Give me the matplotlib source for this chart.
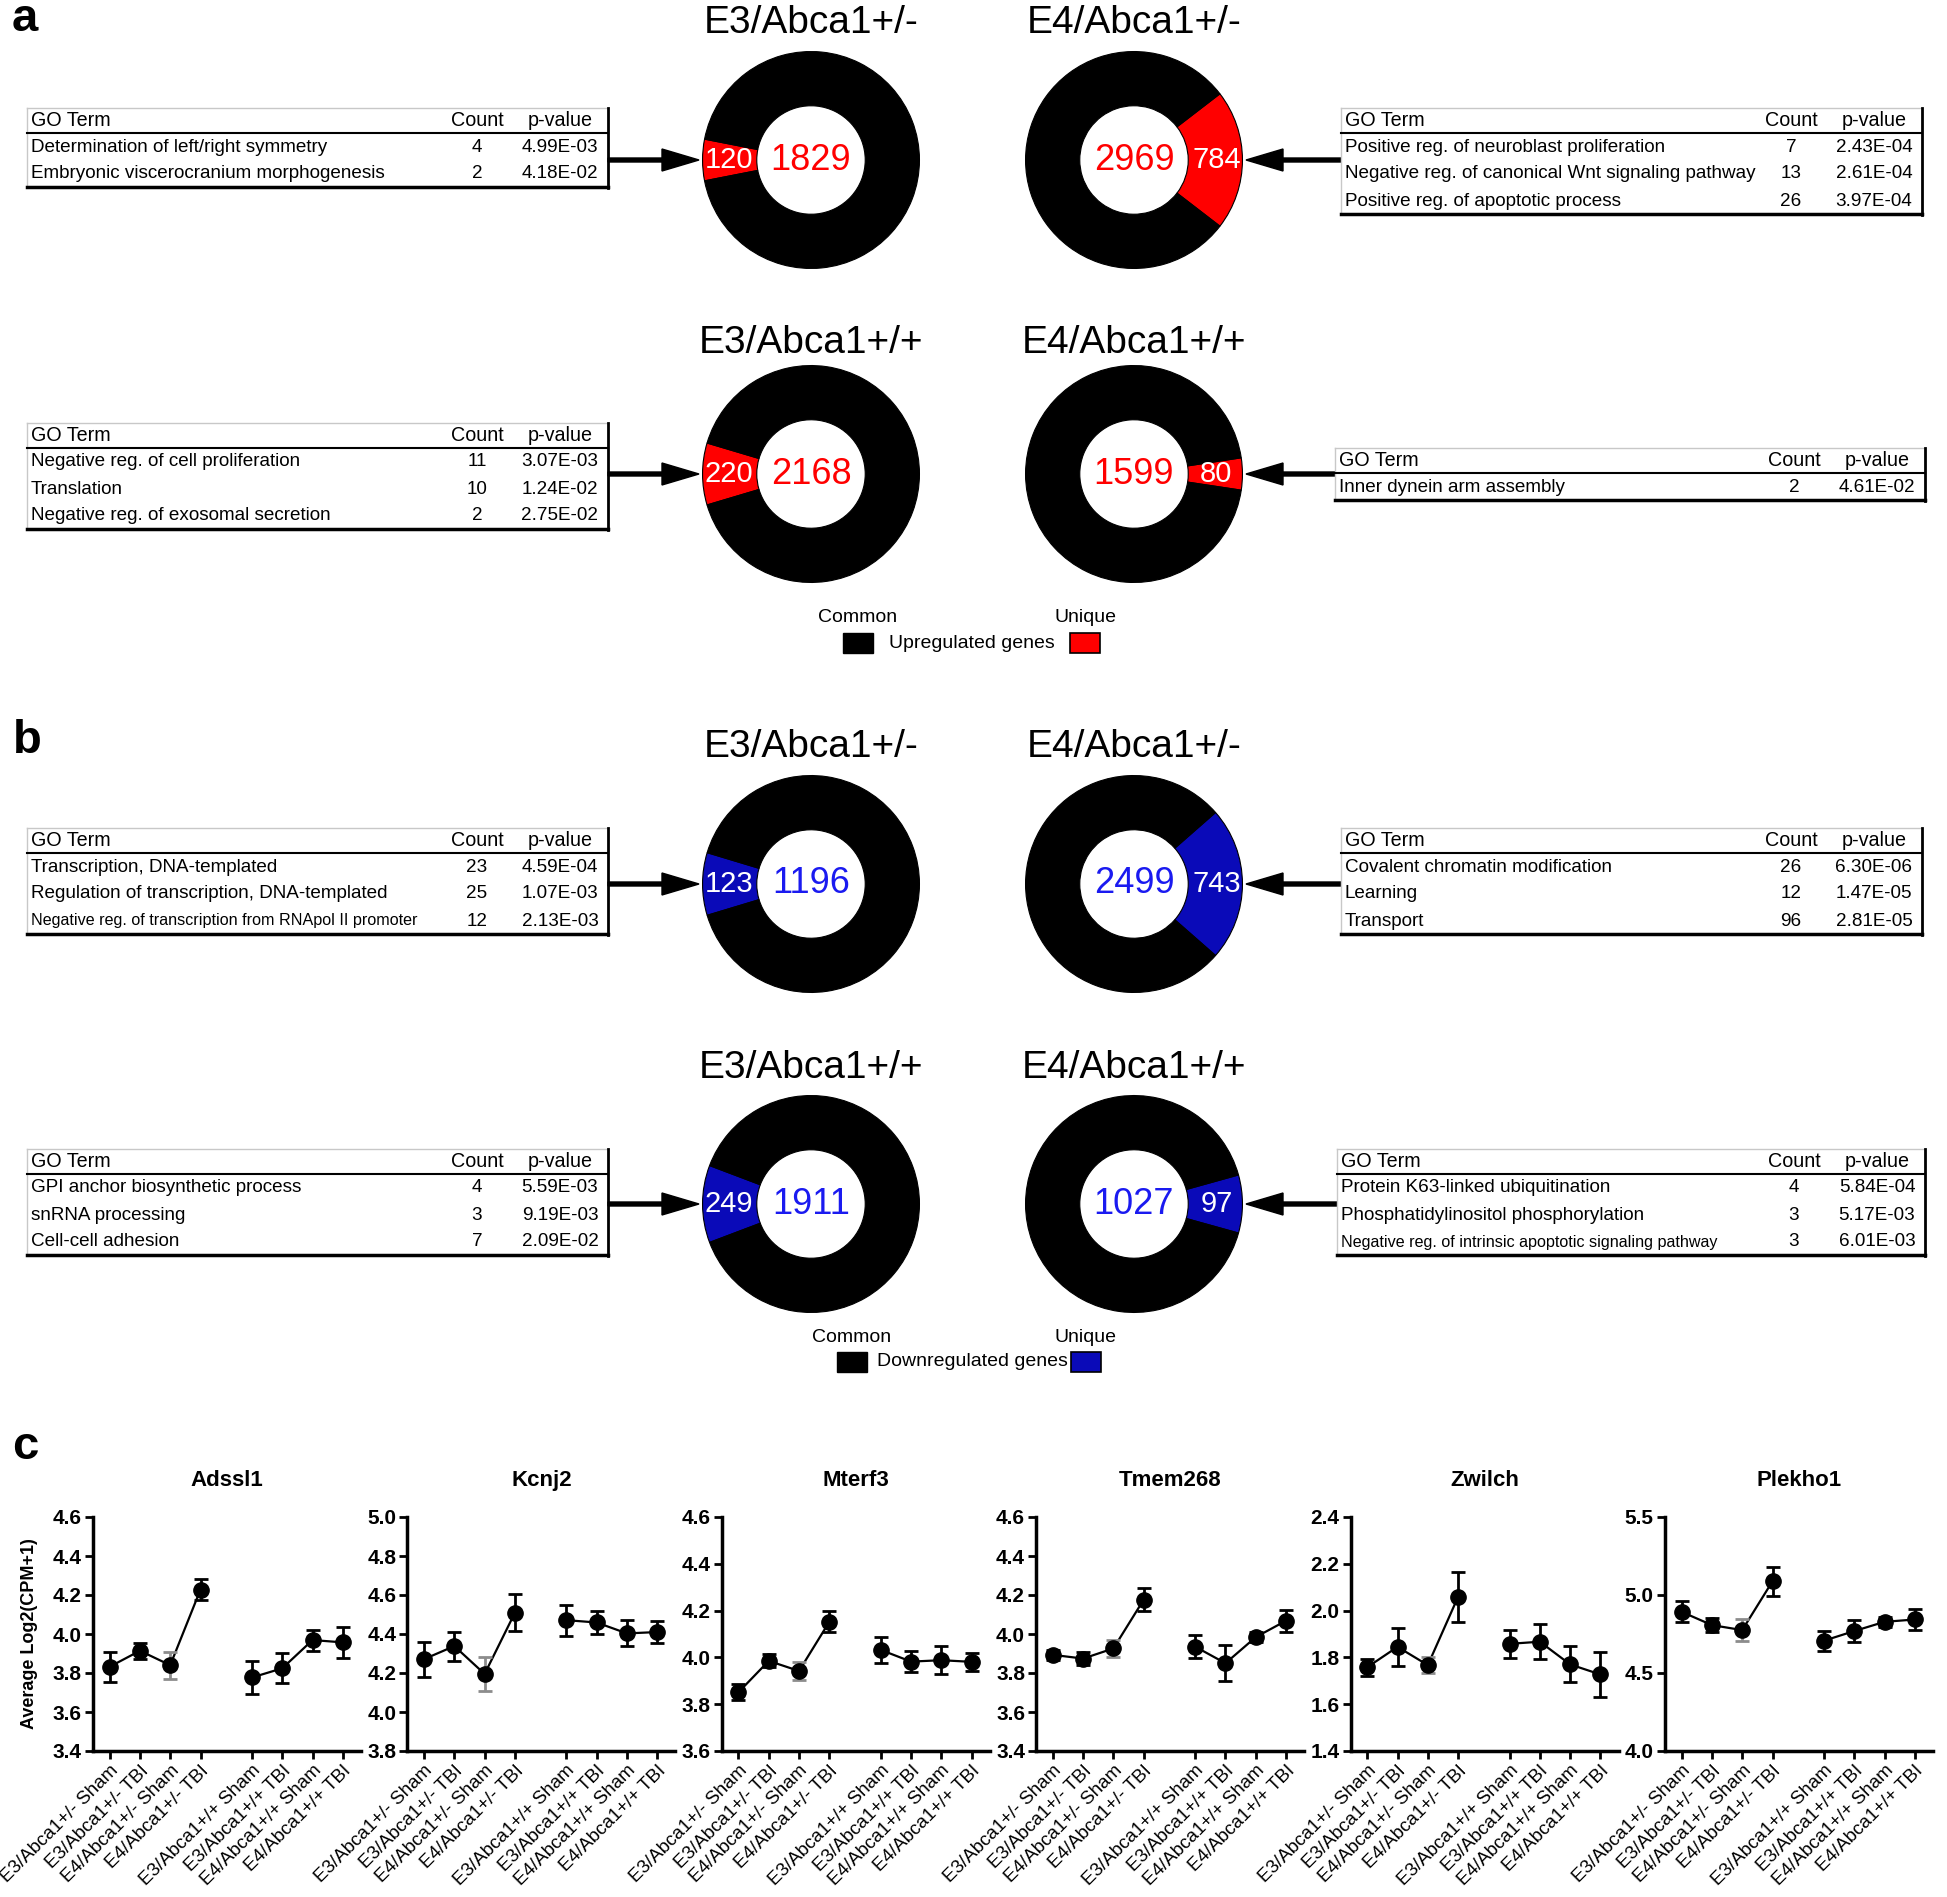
import matplotlib
matplotlib.use('Agg')
import matplotlib.pyplot as plt
from matplotlib import font_manager as fm
from matplotlib.patches import Rectangle

# ---------------- data ----------------
donut_titles = ["E3/Abca1+/-", "E4/Abca1+/-", "E3/Abca1+/+", "E4/Abca1+/+"]
up_common = [1829, 2969, 2168, 1599]
up_unique = [120, 784, 220, 80]
down_common = [1196, 2499, 1911, 1027]
down_unique = [123, 743, 249, 97]

go_up_e3_het = [("Determination of left/right symmetry", 4, "4.99E-03"),
                ("Embryonic viscerocranium morphogenesis", 2, "4.18E-02")]
go_up_e4_het = [("Positive reg. of neuroblast proliferation", 7, "2.43E-04"),
                ("Negative reg. of canonical Wnt signaling pathway", 13, "2.61E-04"),
                ("Positive reg. of apoptotic process", 26, "3.97E-04")]
go_up_e3_wt = [("Negative reg. of cell proliferation", 11, "3.07E-03"),
               ("Translation", 10, "1.24E-02"),
               ("Negative reg. of exosomal secretion", 2, "2.75E-02")]
go_up_e4_wt = [("Inner dynein arm assembly", 2, "4.61E-02")]
go_down_e3_het = [("Transcription, DNA-templated", 23, "4.59E-04"),
                  ("Regulation of transcription, DNA-templated", 25, "1.07E-03"),
                  ("Negative reg. of transcription from RNApol II promoter", 12, "2.13E-03")]
go_down_e4_het = [("Covalent chromatin modification", 26, "6.30E-06"),
                  ("Learning", 12, "1.47E-05"),
                  ("Transport", 96, "2.81E-05")]
go_down_e3_wt = [("GPI anchor biosynthetic process", 4, "5.59E-03"),
                 ("snRNA processing", 3, "9.19E-03"),
                 ("Cell-cell adhesion", 7, "2.09E-02")]
go_down_e4_wt = [("Protein K63-linked ubiquitination", 4, "5.84E-04"),
                 ("Phosphatidylinositol phosphorylation", 3, "5.17E-03"),
                 ("Negative reg. of intrinsic apoptotic signaling pathway", 3, "6.01E-03")]

genes = ["Adssl1", "Kcnj2", "Mterf3", "Tmem268", "Zwilch", "Plekho1"]
groups = ["E3/Abca1+/- Sham", "E3/Abca1+/- TBI", "E4/Abca1+/- Sham", "E4/Abca1+/- TBI",
          "E3/Abca1+/+ Sham", "E3/Abca1+/+ TBI", "E4/Abca1+/+ Sham", "E4/Abca1+/+ TBI"]
mean_adssl1 = [3.832, 3.914, 3.84, 4.228, 3.777, 3.824, 3.969, 3.957]
sem_adssl1 = [0.077, 0.041, 0.07, 0.053, 0.086, 0.077, 0.054, 0.078]
mean_kcnj2 = [4.271, 4.338, 4.195, 4.509, 4.471, 4.459, 4.403, 4.41]
sem_kcnj2 = [0.09, 0.074, 0.085, 0.094, 0.08, 0.06, 0.067, 0.055]
mean_mterf3 = [3.851, 3.985, 3.942, 4.152, 4.032, 3.982, 3.988, 3.981]
sem_mterf3 = [0.034, 0.028, 0.04, 0.045, 0.057, 0.045, 0.059, 0.038]
mean_tmem268 = [3.893, 3.874, 3.926, 4.176, 3.935, 3.85, 3.984, 4.068]
sem_tmem268 = [0.026, 0.035, 0.045, 0.059, 0.06, 0.092, 0.024, 0.057]
mean_zwilch = [1.758, 1.845, 1.767, 2.059, 1.858, 1.867, 1.77, 1.727]
sem_zwilch = [0.036, 0.08, 0.035, 0.107, 0.059, 0.075, 0.077, 0.096]
mean_plekho1 = [4.892, 4.807, 4.775, 5.088, 4.707, 4.769, 4.828, 4.843]
sem_plekho1 = [0.067, 0.045, 0.071, 0.093, 0.065, 0.072, 0.034, 0.069]
y_ranges = [(3.4, 4.6, 0.2), (3.8, 5.0, 0.2), (3.6, 4.6, 0.2),
            (3.4, 4.6, 0.2), (1.4, 2.4, 0.2), (4.0, 5.5, 0.5)]

# ---------------- fonts ----------------
plt.rcParams['font.family'] = ['Liberation Sans', 'DejaVu Sans']
names = {f.name for f in fm.fontManager.ttflist}
HAS_NARROW = 'Liberation Sans Narrow' in names
NUMFAM = ['Liberation Sans Narrow', 'Liberation Sans'] if HAS_NARROW else ['Liberation Sans']
FS_CENTER = 30 if HAS_NARROW else 26
FS_WEDGE = 24 if HAS_NARROW else 21
FS_YTICK = 17 if HAS_NARROW else 15
FS_TITLE_C = 19 if HAS_NARROW else 16

W, H = 1947, 1897
fig = plt.figure(figsize=(W / 100, H / 100), dpi=100)
fig.patch.set_facecolor('white')

ov = fig.add_axes([0, 0, 1, 1])
ov.set_xlim(0, W)
ov.set_ylim(H, 0)
ov.axis('off')

RED = '#ff0000'
BLUE_W = '#0a0ab8'
BLUE_T = '#1a1af0'

CX = [811, 1134]
R = 109


def donut(cx, cy, common, unique, side, wedge_col, num_col):
    ax = fig.add_axes([(cx - R) / W, 1 - (cy + R) / H, 2 * R / W, 2 * R / H])
    ang = 360.0 * unique / (unique + common)
    start = 180 - ang / 2 if side == 'left' else -ang / 2
    ax.pie([unique, common], colors=[wedge_col, 'black'], startangle=start,
           counterclock=True, radius=1,
           wedgeprops=dict(width=0.5, edgecolor='black', linewidth=0.8))
    ax.set_xlim(-1.005, 1.005)
    ax.set_ylim(-1.005, 1.005)
    ax.set_aspect('equal')
    ax.axis('off')
    ax.text(0, 0, str(common), color=num_col, ha='center', va='center',
            fontsize=FS_CENTER, family=NUMFAM)
    xs = -0.76 if side == 'left' else 0.76
    ax.text(xs, 0, str(unique), color='white', ha='center', va='center',
            fontsize=FS_WEDGE, family=NUMFAM)


def table(x0, x1, ytop, rows, fs=13.6):
    n = len(rows)
    yline = ytop + 25
    ybot = yline + 27 * n
    ov.plot([x0, x1], [ytop, ytop], color='#c8c8c8', lw=1)
    ov.plot([x0, x0], [ytop, ybot], color='#c8c8c8', lw=1)
    ov.plot([x1, x1], [ytop, ybot + 1], color='black', lw=2)
    ov.plot([x0, x1], [ybot, ybot], color='black', lw=2.5)
    ov.plot([x0, x1], [yline, yline], color='black', lw=1.5)
    yh = ytop + 12.5
    ov.text(x0 + 4, yh, 'GO Term', va='center', ha='left', fontsize=fs + 0.6)
    ov.text(x1 - 131, yh, 'Count', va='center', ha='center', fontsize=fs + 0.6)
    ov.text(x1 - 48, yh, 'p-value', va='center', ha='center', fontsize=fs + 0.6)
    for i, (term, cnt, pv) in enumerate(rows):
        y = yline + 14 + 27 * i
        ov.text(x0 + 4, y, term, va='center', ha='left',
                fontsize=fs if len(term) <= 50 else fs - 2)
        ov.text(x1 - 131, y, str(cnt), va='center', ha='center', fontsize=fs)
        ov.text(x1 - 48, y, pv, va='center', ha='center', fontsize=fs)


def arrow(x_from, x_to, y):
    ov.arrow(x_from, y, x_to - x_from, 0, width=4, head_width=22, head_length=37,
             length_includes_head=True, color='black')


# ---------------- panels a & b ----------------
sections = [
    dict(common=up_common, unique=up_unique, wcol=RED, ncol=RED,
         ybase=[33, 353], cy=[160, 474],
         tables=[(27, 608, 108, go_up_e3_het), (1341, 1922, 108, go_up_e4_het),
                 (27, 608, 423, go_up_e3_wt), (1335, 1925, 448, go_up_e4_wt)],
         leg_y=(618, 643), leg_x=(858, 1085), leg_text='Upregulated genes', leg_tx=972),
    dict(common=down_common, unique=down_unique, wcol=BLUE_W, ncol=BLUE_T,
         ybase=[757, 1078], cy=[884, 1204],
         tables=[(27, 608, 828, go_down_e3_het), (1341, 1922, 828, go_down_e4_het),
                 (27, 608, 1149, go_down_e3_wt), (1337, 1925, 1149, go_down_e4_wt)],
         leg_y=(1337, 1362), leg_x=(852, 1086), leg_text='Downregulated genes', leg_tx=972),
]

for s in sections:
    for k in range(4):
        row, col = k // 2, k % 2
        cx, cy = CX[col], s['cy'][row]
        ov.text(cx, s['ybase'][row], donut_titles[k], ha='center', va='baseline', fontsize=28)
        donut(cx, cy, s['common'][k], s['unique'][k], 'left' if col == 0 else 'right',
              s['wcol'], s['ncol'])
        x0, x1, yt, rows = s['tables'][k]
        table(x0, x1, yt, rows)
        if col == 0:
            arrow(x1, cx - R - 3, cy)
        else:
            arrow(x0, cx + R + 3, cy)
    ly1, ly2 = s['leg_y']
    lxa, lxb = s['leg_x']
    ov.text(lxa, ly1, 'Common', ha='center', va='center', fontsize=14)
    ov.text(lxb, ly1, 'Unique', ha='center', va='center', fontsize=14)
    ov.add_patch(Rectangle((lxa - 15, ly2 - 10), 30, 20, facecolor='black', edgecolor='black', lw=1))
    ov.add_patch(Rectangle((lxb - 15, ly2 - 10), 30, 20, facecolor=s['wcol'], edgecolor='black', lw=1.2))
    ov.text(s['leg_tx'], ly2, s['leg_text'], ha='center', va='center', fontsize=14)

ov.text(25, 19, 'a', ha='center', va='center', fontsize=34, fontweight='bold')
ov.text(27, 741, 'b', ha='center', va='center', fontsize=34, fontweight='bold')
ov.text(25, 1447, 'c', ha='center', va='center', fontsize=34, fontweight='bold')

# ---------------- panel c ----------------
means = [mean_adssl1, mean_kcnj2, mean_mterf3, mean_tmem268, mean_zwilch, mean_plekho1]
sems = [sem_adssl1, sem_kcnj2, sem_mterf3, sem_tmem268, sem_zwilch, sem_plekho1]
pos = [0, 1, 2, 3, 4.7, 5.7, 6.7, 7.7]
ax_top, ax_bot, ax_w = 1517, 1751, 268
for i, g in enumerate(genes):
    left = 93 + 314.4 * i
    ax = fig.add_axes([left / W, 1 - ax_bot / H, ax_w / W, (ax_bot - ax_top) / H])
    m, e = means[i], sems[i]
    ax.plot(pos[:4], m[:4], color='black', lw=1.6, zorder=2)
    ax.plot(pos[4:], m[4:], color='black', lw=1.6, zorder=2)
    for j in range(8):
        ec = '#8c8c8c' if j == 2 else 'black'
        ax.errorbar(pos[j], m[j], yerr=e[j], fmt='none', ecolor=ec, elinewidth=2,
                    capsize=5, capthick=2, zorder=3)
    ax.plot(pos, m, 'o', color='black', ms=11, zorder=4)
    lo, hi, st = y_ranges[i]
    ax.set_ylim(lo, hi)
    nt = int(round((hi - lo) / st)) + 1
    ticks = [lo + st * t for t in range(nt)]
    ax.set_yticks(ticks)
    ax.set_yticklabels([f"{t:.1f}" for t in ticks], fontsize=FS_YTICK,
                       fontweight='bold', family=NUMFAM)
    ax.set_xlim(-0.55, 8.3)
    ax.set_xticks(pos)
    ax.set_xticklabels(groups, rotation=45, ha='right', rotation_mode='anchor', fontsize=13.5)
    for sp in ['top', 'right']:
        ax.spines[sp].set_visible(False)
    for sp in ['left', 'bottom']:
        ax.spines[sp].set_linewidth(2.5)
    ax.tick_params(direction='out', length=6, width=2, pad=2)
    ax.set_title(g, fontsize=FS_TITLE_C, fontweight='bold', family=NUMFAM, pad=22)
    ax.set_facecolor('none')
    if i == 0:
        ax.set_ylabel('Average Log2(CPM+1)', fontsize=13, fontweight='bold')
        ax.yaxis.set_label_coords(-0.205, 0.5)

fig.savefig('out.png', dpi=100, facecolor='white')
